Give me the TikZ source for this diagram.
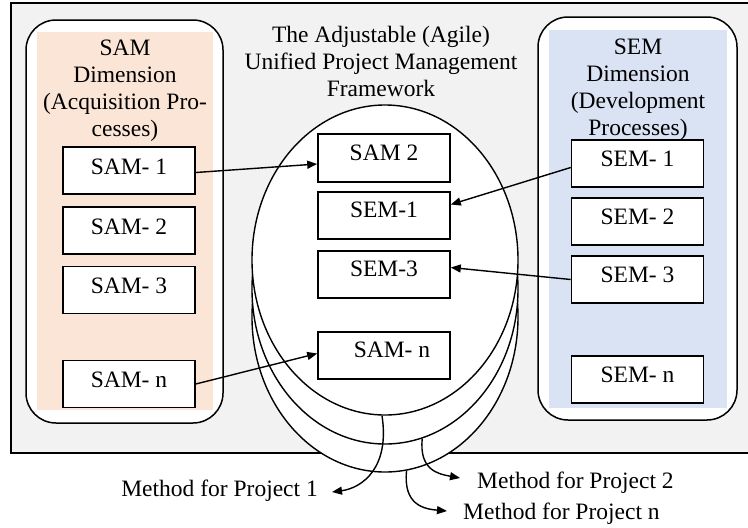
\documentclass[tikz,border=0pt]{standalone}
\usepackage{fontspec}
\setmainfont{Liberation Serif}
\usetikzlibrary{arrows.meta,shapes.geometric,calc}
\definecolor{outergray}{HTML}{F2F2F2}
\definecolor{peach}{HTML}{FBE5D6}
\definecolor{paleblue}{HTML}{DAE3F3}
\begin{document}
\begin{tikzpicture}[x=1pt,y=-1pt,
  bigfont/.style={font=\fontsize{23.5}{27}\selectfont},
  title/.style={bigfont, inner sep=0pt, align=center, anchor=north},
  boxbase/.style={draw, line width=1.6pt, fill=white, minimum width=132pt,
    inner xsep=0pt, inner ysep=0pt, bigfont},
  leftbox/.style={boxbase, text height=27pt, text depth=20pt},
  rightbox/.style={boxbase, text height=26pt, text depth=21pt},
  midbox/.style={boxbase, text height=26pt, text depth=21.5pt},
  frame/.style={draw, line width=1.5pt, fill=white, rounded corners=30pt},
  oval/.style={ellipse, draw, line width=1.4pt, fill=white, inner sep=0pt,
    minimum width=266pt, minimum height=310pt},
  arr/.style={line width=1.4pt, -{Triangle[length=10pt,width=8pt]}},
  lbl/.style={bigfont, inner sep=0pt}
]
\useasboundingbox (0,0) rectangle (748,528);
% outer frame
\path[fill=outergray, draw, line width=1.3pt] (11,3) rectangle (790,453);
% side containers
\path[frame] (26,20) rectangle (223,423);
\fill[peach] (37,32) rectangle (213,410);
\path[frame] (538,17) rectangle (737,420);
\fill[paleblue] (549,30) rectangle (727,408);
% titles
\node[title] (samtitle) at (125,40) {SAM\\Dimension\\(Acquisition Pro-\\cesses)};
\node[title] (semtitle) at (638,39) {SEM\\Dimension\\(Development\\Processes)};
\node[title] (maintitle) at (381,26) {The Adjustable (Agile)\\Unified Project Management\\Framework};
% left boxes
\node[leftbox] (sam1) at (129,170.5) {SAM- 1};
\node[leftbox] (sam2) at (129,230.5) {SAM- 2};
\node[leftbox] (sam3) at (129,290) {SAM- 3};
\node[leftbox] (samn) at (129,384) {SAM- n};
% right boxes
\node[rightbox] (sem1) at (637.5,163.5) {SEM- 1};
\node[rightbox] (sem2) at (637.5,221.5) {SEM- 2};
\node[rightbox] (sem3) at (637.5,279.5) {SEM- 3};
\node[rightbox] (semn) at (637.5,379.5) {SEM- n};
% stacked ovals
\node[oval] (e3) at (385,317) {};
\node[oval] (e2) at (385,289) {};
\node[oval] (e1) at (385,260) {};
% central boxes
\node[midbox] (c1) at (384,158) {SAM 2};
\node[midbox] (c2) at (384,215.5) {SEM-1};
\node[midbox] (c3) at (384,274.5) {SEM-3};
\node[midbox] (cn) at (384,355.5) {\hspace*{16pt}SAM- n};
% straight arrows
\draw[arr] ([yshift=-2pt]sam1.east) -- ([yshift=-6pt]c1.west);
\draw[arr] ([yshift=-4pt]sem1.west) -- ([yshift=11pt]c2.east);
\draw[arr] (sem3.west) -- ([yshift=7pt]c3.east);
\draw[arr] (samn.east) -- ([yshift=2pt]cn.west);
% method labels
\node[lbl, anchor=base east] (t1) at (318,496) {Method for Project 1};
\node[lbl, anchor=base west] (t2) at (477,488) {Method for Project 2};
\node[lbl, anchor=base west] (t3) at (463,519) {Method for Project n};
\coordinate (m1s) at ([xshift=-3pt]e1.south);
\coordinate (m2s) at (e2.-76);
\coordinate (m3s) at (e3.-82.5);
\coordinate (m1e) at ([xshift=14pt,yshift=4pt]t1.base east);
\coordinate (m2e) at ([xshift=-17pt,yshift=10pt]t2.base west);
\coordinate (m3e) at ([xshift=-16pt,yshift=8pt]t3.base west);
\draw[arr] (m1s) .. controls (390,468) and (362,488) .. (m1e);
\draw[arr] (m2s) .. controls (419,470) and (438,474) .. (m2e);
\draw[arr] (m3s) .. controls (403,505) and (424,509) .. (m3e);
\end{tikzpicture}
\end{document}
